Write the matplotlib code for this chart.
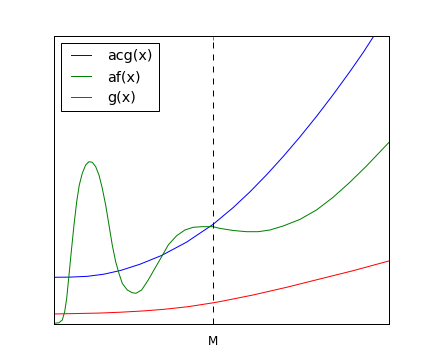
import matplotlib
matplotlib.use("Agg")
import matplotlib.pyplot as plt

plt.style.use("classic")

M = 4.746

x_f = [0.000, 0.149, 0.248, 0.319, 0.379, 0.448, 0.516, 0.597, 0.678, 0.755, 0.845,
       0.946, 1.045, 1.143, 1.245, 1.343, 1.442, 1.543, 1.642, 1.740, 1.842, 1.940,
       2.039, 2.188, 2.337, 2.448, 2.618, 2.815, 3.015, 3.215, 3.412, 3.663, 3.910,
       4.158, 4.409, 4.746, 4.955, 5.352, 5.752, 6.099, 6.448, 6.845, 7.343, 7.842,
       8.337, 8.836, 9.334, 10.0]
af = [0.024, 0.045, 0.139, 0.427, 0.892, 1.701, 2.510, 3.438, 4.247, 4.826, 5.233,
      5.521, 5.635, 5.615, 5.462, 5.174, 4.712, 4.132, 3.438, 2.743, 2.163, 1.760,
      1.413, 1.181, 1.087, 1.066, 1.181, 1.528, 1.934, 2.337, 2.743, 3.066, 3.264,
      3.358, 3.378, 3.380, 3.320, 3.247, 3.205, 3.205, 3.264, 3.403, 3.630, 3.960,
      4.400, 4.920, 5.486, 6.300]

x_acg = [0, 0.478, 0.994, 1.493, 1.991, 2.567, 3.215, 3.961, 4.746, 5.352, 5.851,
         6.349, 6.845, 7.343, 7.842, 8.337, 8.836, 9.233, 9.531, 10.0]
acg = [1.622, 1.628, 1.655, 1.730, 1.860, 2.075, 2.380, 2.843, 3.455, 4.043, 4.587,
       5.180, 5.815, 6.492, 7.211, 7.963, 8.761, 9.424, 9.960, 10.79]

x_g = [0, 1.373, 2.0, 2.687, 3.284, 4.0, 4.746, 4.955, 5.949, 6.946, 7.940, 8.934, 10.0]
g = [0.348, 0.380, 0.410, 0.455, 0.510, 0.600, 0.735, 0.777, 1.008, 1.274, 1.563,
     1.851, 2.188]

fig = plt.figure(figsize=(6, 5), dpi=72)
ax = fig.add_subplot(111)
ax.plot(x_acg, acg, color="b", lw=1, label="acg(x)")
ax.plot(x_f, af, color="g", lw=1, label="af(x)")
ax.plot(x_g, g, color="r", lw=1, label="g(x)")
ax.axvline(M, color="k", linestyle="--", lw=1)
ax.set_xlim(0, 10)
ax.set_ylim(0, 10)
ax.set_xticks([M])
ax.set_xticklabels(["M"])
ax.set_yticks([])
ax.tick_params(axis="x", pad=11)
ax.legend(loc="upper left")
fig.savefig("out.png", dpi=72)
